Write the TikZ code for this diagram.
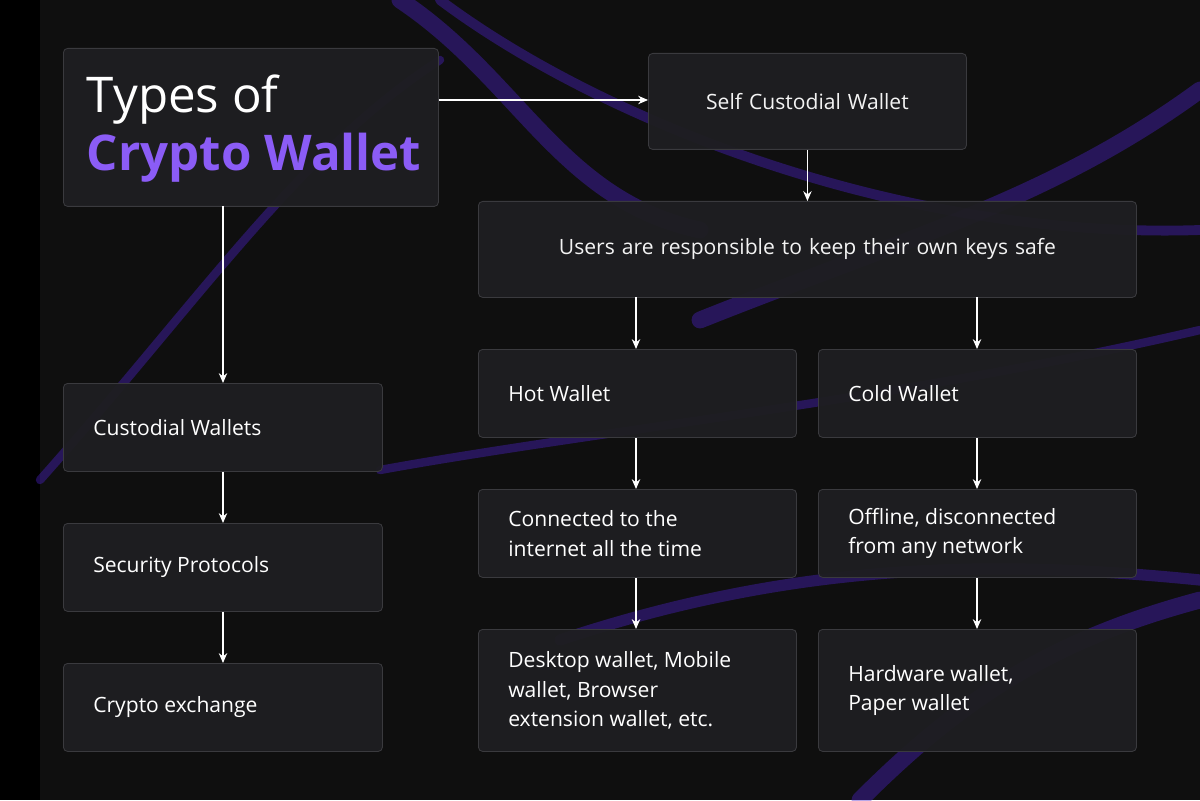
\documentclass[tikz,border=0pt]{standalone}
\usepackage{fontspec}
\setmainfont{Open Sans}
\usetikzlibrary{arrows.meta}
\definecolor{boxfill}{HTML}{1E1E21}
\definecolor{boxline}{HTML}{3A3A3E}
\definecolor{purp}{HTML}{8B5CF6}
\definecolor{ribbon}{HTML}{4B22C8}
\tikzset{
 box/.style={draw=boxline,fill=boxfill,fill opacity=0.95,rounded corners=3pt,line width=0.6pt,text width=#1,inner sep=0pt},
 arr/.style={draw=white,line width=0.9pt,-{Stealth[length=7pt,width=6pt]}},
 rib/.style={draw=ribbon,line cap=round,opacity=0.4}
}
\begin{document}
\begin{tikzpicture}[x=0.025cm,y=-0.025cm]
\fill[black] (0,0) rectangle (1200,800);
\useasboundingbox (0,0) rectangle (1200,800);
\fill[black!94!white] (40,0) rectangle (1200,800);
% ribbons
\draw[rib,line width=12pt] (400,0) .. controls (520,80) and (560,200) .. (700,230);
\draw[rib,line width=7pt] (440,0) .. controls (600,120) and (900,240) .. (1200,230);
\draw[rib,line width=12pt] (1200,90) .. controls (1050,200) and (900,240) .. (700,320);
\draw[rib,line width=6pt] (40,480) .. controls (200,300) and (300,150) .. (440,60);
\draw[rib,line width=6pt] (380,470) .. controls (600,430) and (900,400) .. (1200,330);
\draw[rib,line width=8pt] (560,640) .. controls (800,560) and (1000,560) .. (1200,580);
\draw[rib,line width=12pt] (860,800) .. controls (960,700) and (1050,640) .. (1200,600);
% nodes
\node[box=375*0.025cm,minimum height=158*0.025cm,anchor=north west] (title) at (63,48) {};
\node[anchor=west,text=white,font=\fontsize{35}{40}\selectfont] (t1) at (82,100) {Types of};
\node[anchor=west,text=purp,font=\fontsize{35}{40}\selectfont\bfseries] (t2) at (82,158) {Crypto Wallet};
\node[box=318*0.025cm,minimum height=96*0.025cm,align=center,text=white,font=\fontsize{15}{21}\selectfont,anchor=north west] (self) at (648,53) {Self Custodial Wallet};
\node[box=658*0.025cm,minimum height=96*0.025cm,align=center,text=white,font=\fontsize{15}{21}\selectfont,anchor=north west] (users) at (478,201) {Users are responsible to keep their own keys safe};
\foreach \n/\x/\y/\w/\h/\t in {
 hotb/478/349/318/88/{Hot Wallet},
 cold/818/349/318/88/{Cold Wallet},
 conn/478/489/318/88/{Connected to the\\internet all the time},
 off/818/489/318/88/{Offline, disconnected\\from any network},
 desk/478/629/318/122/{Desktop wallet, Mobile\\wallet, Browser\\extension wallet, etc.},
 hard/818/629/318/122/{Hardware wallet,\\Paper wallet},
 cust/63/383/319/88/{Custodial Wallets},
 sec/63/523/319/88/{Security Protocols},
 exch/63/663/319/88/{Crypto exchange}}
 {\node[box=\w*0.025cm,minimum height=\h*0.025cm,anchor=north west] (\n) at (\x,\y) {};
  \node[anchor=west,text=white,font=\fontsize{15}{21}\selectfont,align=left,inner sep=0pt] (\n t) at ([xshift=30*0.025cm]\n.west) {\t};}
% arrows
\draw[arr] (title.east|-t1) -- (self.west|-t1);
\draw[arr] (self.south) -- (users.north-|self.south);
\coordinate (a1) at (636,297); \coordinate (a2) at (977,297);
\draw[arr] (a1) -- (hotb.north-|a1);
\draw[arr] (a2) -- (cold.north-|a2);
\draw[arr] (hotb.south-|a1) -- (conn.north-|a1);
\draw[arr] (cold.south-|a2) -- (off.north-|a2);
\draw[arr] (conn.south-|a1) -- (desk.north-|a1);
\draw[arr] (off.south-|a2) -- (hard.north-|a2);
\coordinate (b) at (223,206);
\draw[arr] (b) -- (cust.north-|b);
\draw[arr] (cust.south-|b) -- (sec.north-|b);
\draw[arr] (sec.south-|b) -- (exch.north-|b);
\end{tikzpicture}
\end{document}
